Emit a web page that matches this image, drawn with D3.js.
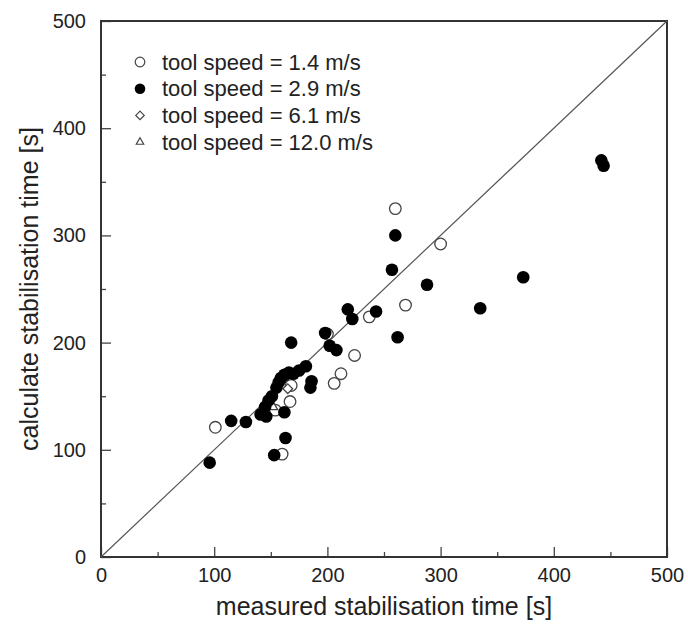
<!DOCTYPE html>
<html>
<head>
<meta charset="utf-8">
<script src="https://cdn.jsdelivr.net/npm/d3@7"></script>
<style>
  body { margin: 0; background: #fff; }
  text { font-family: "Liberation Sans", Arial, sans-serif; fill: #222; }
</style>
</head>
<body>
<div id="chart"></div>
<script>
var width = 688
var height = 632

var margin = {
    top: 21,
    left: 101,
    right: 21,
    bottom: 75
}

// data: [measured, calculated] in seconds
var speed14 = [
    [101, 121], [160, 96], [167, 145], [154, 137], [168, 160], [200, 208],
    [206, 162], [212, 171], [224, 188], [237, 224], [269, 235], [260, 325],
    [300, 292]
]
var speed29 = [
    [96, 88], [115, 127], [128, 126], [141, 133], [146, 131], [145, 140],
    [148, 146], [151, 150], [155, 158], [157, 163], [159, 167], [162, 170],
    [166, 172], [170, 171], [175, 174], [181, 178], [168, 200], [153, 95],
    [163, 111], [162, 135], [185, 158], [186, 164], [198, 209], [202, 197],
    [208, 193], [218, 231], [222, 222], [243, 229], [257, 268], [260, 300],
    [262, 205], [288, 254], [335, 232], [373, 261], [442, 370], [444, 365]
]
var speed61 = [[165, 157]]
var speed120 = [[152, 140]]

var legendLabels = ["tool speed = 1.4 m/s", "tool speed = 2.9 m/s", "tool speed = 6.1 m/s", "tool speed = 12.0 m/s"]
var majorTicks = [0, 100, 200, 300, 400, 500]
var minorTicks = [50, 150, 250, 350, 450]

var w = width - margin.left - margin.right
var h = height - margin.top - margin.bottom

var svg = d3.select("#chart").append("svg").attr("width", width).attr("height", height)
var g = svg.append("g").attr("transform", "translate(" + margin.left + "," + margin.top + ")")

var xScale = d3.scaleLinear().domain([0, 500]).range([0, w])
var yScale = d3.scaleLinear().domain([0, 500]).range([h, 0])

// axes, ticks pointing inward
var xAxis = g.append("g").attr("transform", "translate(0," + h + ")")
    .call(d3.axisBottom(xScale).tickValues(majorTicks).tickSize(-10).tickPadding(11))
var xMinor = g.append("g").attr("transform", "translate(0," + h + ")")
    .call(d3.axisBottom(xScale).tickValues(minorTicks).tickSize(-5).tickFormat(""))
var yAxis = g.append("g")
    .call(d3.axisLeft(yScale).tickValues(majorTicks).tickSize(-10).tickPadding(15))
var yMinor = g.append("g")
    .call(d3.axisLeft(yScale).tickValues(minorTicks).tickSize(-5).tickFormat(""))

g.selectAll(".domain").remove()
g.selectAll(".tick line").attr("stroke", "#444").attr("stroke-width", 1.3)
g.selectAll(".tick text").style("font-size", "20px").attr("fill", "#222")

// frame
g.append("rect")
    .attr("x", 0).attr("y", 0).attr("width", w).attr("height", h)
    .attr("fill", "none").attr("stroke", "#333").attr("stroke-width", 2)

// 1:1 line
g.append("line")
    .attr("x1", xScale(0)).attr("y1", yScale(0))
    .attr("x2", xScale(500)).attr("y2", yScale(500))
    .attr("stroke", "#555").attr("stroke-width", 1.2)

// points
g.selectAll(".open").data(speed14).enter().append("circle")
    .attr("class", "open")
    .attr("cx", function(d) { return xScale(d[0]) })
    .attr("cy", function(d) { return yScale(d[1]) })
    .attr("r", 5.8)
    .attr("fill", "#fff").attr("stroke", "#444").attr("stroke-width", 1.3)

g.selectAll(".diam").data(speed61).enter().append("path")
    .attr("class", "diam")
    .attr("d", d3.symbol().type(d3.symbolDiamond2).size(60))
    .attr("transform", function(d) { return "translate(" + xScale(d[0]) + "," + yScale(d[1]) + ")" })
    .attr("fill", "#fff").attr("stroke", "#444").attr("stroke-width", 1.3)

g.selectAll(".tri").data(speed120).enter().append("path")
    .attr("class", "tri")
    .attr("d", d3.symbol().type(d3.symbolTriangle2).size(60))
    .attr("transform", function(d) { return "translate(" + xScale(d[0]) + "," + yScale(d[1]) + ")" })
    .attr("fill", "#fff").attr("stroke", "#444").attr("stroke-width", 1.3)

g.selectAll(".filled").data(speed29).enter().append("circle")
    .attr("class", "filled")
    .attr("cx", function(d) { return xScale(d[0]) })
    .attr("cy", function(d) { return yScale(d[1]) })
    .attr("r", 6.3)
    .attr("fill", "#000")

// legend
var legend = svg.append("g").attr("transform", "translate(140,62)")
var rowH = 26.7
legendLabels.forEach(function(lab, i) {
    var row = legend.append("g").attr("transform", "translate(0," + (i * rowH) + ")")
    if (i == 0) {
        row.append("circle").attr("r", 4.8).attr("fill", "#fff").attr("stroke", "#444").attr("stroke-width", 1.2)
    } else if (i == 1) {
        row.append("circle").attr("r", 5.3).attr("fill", "#000")
    } else if (i == 2) {
        row.append("path").attr("d", d3.symbol().type(d3.symbolDiamond2).size(45))
            .attr("fill", "#fff").attr("stroke", "#444").attr("stroke-width", 1.2)
    } else {
        row.append("path").attr("d", d3.symbol().type(d3.symbolTriangle2).size(40))
            .attr("fill", "#fff").attr("stroke", "#444").attr("stroke-width", 1.2)
    }
    row.append("text").attr("x", 22).attr("y", 0).attr("dy", "0.35em")
        .style("font-size", "22px").text(lab)
})

// axis titles
svg.append("text")
    .attr("x", margin.left + w / 2).attr("y", 615)
    .attr("text-anchor", "middle")
    .style("font-size", "25px")
    .text("measured stabilisation time [s]")

svg.append("text")
    .attr("transform", "translate(38," + (margin.top + h / 2) + ") rotate(-90)")
    .attr("text-anchor", "middle")
    .style("font-size", "25px")
    .text("calculate stabilisation time [s]")
</script>
</body>
</html>
